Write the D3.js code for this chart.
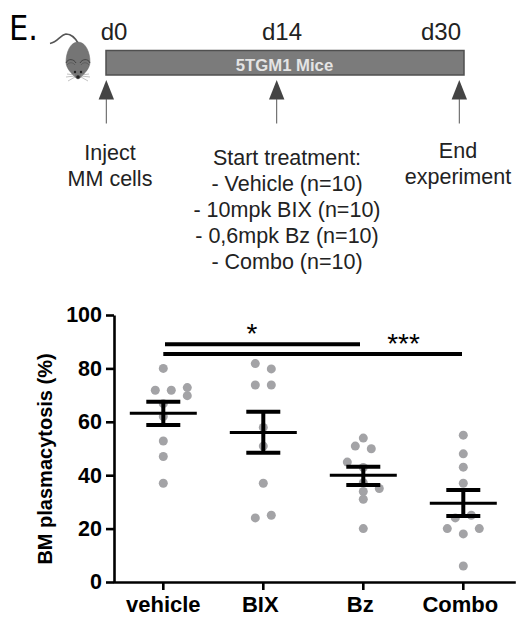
<!DOCTYPE html>
<html>
<head>
<meta charset="utf-8">
<script src="https://cdnjs.cloudflare.com/ajax/libs/d3/7.8.5/d3.min.js"></script>
<style>
  html, body { margin: 0; padding: 0; background: #fff; }
  svg { display: block; }
  text { font-family: "Liberation Sans", Arial, sans-serif; }
</style>
</head>
<body>
<div id="chart"></div>
<script>
var categories = ['vehicle', 'BIX', 'Bz', 'Combo'];
var yTicks = [0, 20, 40, 60, 80, 100];

// dot values, dodge = sideways slot of each dot in the swarm
var vehicleValues = [80, 71.8, 71.8, 72.8, 69.8, 66.8, 62, 52.8, 47, 37];
var vehicleDodge = [0, -1, 1, 3, 3, 0, 0, 0, 0, 0];
var bixValues = [81.8, 79.8, 73.8, 73.8, 57.9, 50.9, 37, 25, 24];
var bixDodge = [-1, 1, -1, 1, 0, 0, 0, 1, -1];
var bzValues = [53.9, 50.9, 49.9, 44.9, 42.9, 37.2, 35, 33.9, 31, 20];
var bzDodge = [0, -1, 1, -2, 0, 0, 2, 0, 0, 0];
var comboValues = [55, 48, 43, 37, 25, 24, 20, 20, 18, 6];
var comboDodge = [0, 0, 0, 0, 1, -1, -2, 2, 0, 0];

var means = [63.2, 56, 40, 29.5];
var errLow = [58.8, 48.4, 36.3, 24.7];
var errHigh = [67.5, 63.8, 43.2, 34.5];

var timelineDays = [0, 14, 30];
var timelineLabels = ['d0', 'd14', 'd30'];
var stepLabels = [
  ['Inject', 'MM cells'],
  ['Start treatment:', '- Vehicle (n=10)', '- 10mpk BIX (n=10)', '- 0,6mpk Bz (n=10)', '- Combo (n=10)'],
  ['End', 'experiment']
];

var seriesValues = [vehicleValues, bixValues, bzValues, comboValues];
var seriesDodge = [vehicleDodge, bixDodge, bzDodge, comboDodge];

var width = 519, height = 637;
var svg = d3.select('#chart').append('svg')
  .attr('width', width)
  .attr('height', height);

svg.append('text')
  .attr('x', 9).attr('y', 40)
  .attr('font-size', 34)
  .attr('fill', '#000')
  .style('font-family', '"DejaVu Sans", sans-serif')
  .attr('textLength', 29)
  .attr('lengthAdjust', 'spacingAndGlyphs')
  .text('E.');

/* ---- mouse ---- */
var mouse = svg.append('g').attr('transform', 'translate(78,62)');
mouse.append('path')
  .attr('d', 'M0,-19 C-3,-24 -6,-28 -12,-28 C-18,-27 -20,-20 -28,-18.5')
  .attr('fill', 'none').attr('stroke', '#555').attr('stroke-width', 1.6);
mouse.append('path')
  .attr('d', 'M0,-20 C8,-20 12,-9 12,0 C12,6 7,11 2,16 L0,17 L-2,16 C-7,11 -12,6 -12,0 C-12,-9 -8,-20 0,-20 Z')
  .attr('fill', '#757575').attr('stroke', '#666').attr('stroke-width', 0.5);
[-1, 1].forEach(function(side) {
  // ear arc
  mouse.append('path')
    .attr('d', 'M' + (side * 2) + ',1 C' + (side * 4) + ',-3 ' + (side * 10) + ',-4 ' + (side * 12) + ',1')
    .attr('fill', 'none').attr('stroke', '#3d3d3d').attr('stroke-width', 0.9);
  mouse.append('path')
    .attr('d', 'M' + (side * 3) + ',3 C' + (side * 5) + ',0 ' + (side * 9) + ',0 ' + (side * 11) + ',3')
    .attr('fill', 'none').attr('stroke', '#555').attr('stroke-width', 0.7);
  mouse.append('circle').attr('cx', side * 3).attr('cy', 10).attr('r', 1.2).attr('fill', '#222');
  // whiskers
  mouse.append('path')
    .attr('d', 'M' + (side * 3) + ',13 L' + (side * 11) + ',12 M' + (side * 3) + ',14 L' + (side * 12) + ',15 M' + (side * 3) + ',15 L' + (side * 10) + ',19')
    .attr('stroke', '#999').attr('stroke-width', 0.6);
});
mouse.append('circle').attr('cx', 0).attr('cy', 15).attr('r', 1.8).attr('fill', '#222');

/* ---- timeline ---- */
var arrowX = d3.scaleLinear().domain([0, 14, 30]).range([106.3, 276.7, 459.3]);
var dayLabelX = [114, 282, 441];
var stepX = [110, 287, 458];
var stepY = [160, 165, 158];

svg.append('rect')
  .attr('x', 106).attr('y', 50.5)
  .attr('width', 358).attr('height', 24.5)
  .attr('fill', '#7b7b7b').attr('stroke', '#4f4f4f').attr('stroke-width', 1.5);

svg.append('text')
  .attr('x', 284.5).attr('y', 70.5)
  .attr('text-anchor', 'middle')
  .attr('font-size', 16.7).attr('font-weight', 'bold')
  .attr('fill', '#e4e4e4')
  .text('5TGM1 Mice');

svg.selectAll('.day-label').data(timelineDays).enter().append('text')
  .attr('class', 'day-label')
  .attr('x', function(d, i) { return dayLabelX[i]; })
  .attr('y', 40)
  .attr('text-anchor', 'middle')
  .attr('font-size', 24)
  .attr('fill', '#222')
  .text(function(d, i) { return timelineLabels[i]; });

svg.selectAll('.arrow-head').data(timelineDays).enter().append('path')
  .attr('class', 'arrow-head')
  .attr('d', function(d) {
    var ax = arrowX(d);
    return 'M' + ax + ',80 L' + (ax + 7.7) + ',99.5 L' + (ax - 7.7) + ',99.5 Z';
  })
  .attr('fill', '#444');

svg.selectAll('.arrow-line').data(timelineDays).enter().append('line')
  .attr('class', 'arrow-line')
  .attr('x1', function(d) { return arrowX(d); })
  .attr('x2', function(d) { return arrowX(d); })
  .attr('y1', 99).attr('y2', 123.5)
  .attr('stroke', '#555').attr('stroke-width', 1);

stepLabels.forEach(function(lines, i) {
  svg.append('text')
    .attr('text-anchor', 'middle')
    .attr('font-size', 21.5)
    .attr('fill', '#222')
    .selectAll('tspan').data(lines).enter().append('tspan')
      .attr('x', stepX[i])
      .attr('y', function(d, j) { return stepY[i] + j * 26; })
      .text(function(d) { return d; });
});

/* ---- dot plot ---- */
// axis runs a bit past the last band, so the extra 2px goes on the right
var x = d3.scaleBand().domain(categories).range([113.3, 515.3]).paddingOuter(0.01).align(0);
var y = d3.scaleLinear().domain([0, 100]).range([582, 315]);
var dodgeStep = 8;

function cx(cat) { return x(cat) + x.bandwidth() / 2; }

var yAxis = d3.axisLeft(y).tickValues(yTicks).tickSize(8).tickSizeOuter(0).tickPadding(4);
var xAxis = d3.axisBottom(x).tickSize(8).tickSizeOuter(0).tickPadding(6);

var yG = svg.append('g').attr('transform', 'translate(114,0)').call(yAxis);
var xG = svg.append('g').attr('transform', 'translate(0,582)').call(xAxis);

[yG, xG].forEach(function(g) {
  g.selectAll('path, line').attr('stroke', '#000').attr('stroke-width', 2.6);
  g.selectAll('text')
    .attr('fill', '#000')
    .attr('font-weight', 'bold')
    .style('font-family', '"Liberation Sans", Arial, sans-serif');
});
// labels sit a little left of their ticks except the first
xG.selectAll('text').attr('font-size', 22)
  .attr('dx', function(d, i) { return i === 0 ? 0 : -3; });
yG.selectAll('text').attr('font-size', 21.5);

svg.append('text')
  .attr('transform', 'translate(52,459) rotate(-90)')
  .attr('text-anchor', 'middle')
  .attr('font-size', 20).attr('font-weight', 'bold')
  .attr('fill', '#000')
  .text('BM plasmacytosis (%)');

categories.forEach(function(cat, i) {
  svg.selectAll('.dot-' + i).data(seriesValues[i]).enter().append('circle')
    .attr('class', 'dot-' + i)
    .attr('cx', function(d, j) { return cx(cat) + seriesDodge[i][j] * dodgeStep; })
    .attr('cy', function(d) { return y(d); })
    .attr('r', 4.5)
    .attr('fill', '#a3a3a6');
});

var marks = svg.append('g').attr('stroke', '#000').attr('fill', 'none');
categories.forEach(function(cat, i) {
  var c = cx(cat);
  marks.append('line').attr('x1', c - 33.5).attr('x2', c + 33.5)
    .attr('y1', y(means[i])).attr('y2', y(means[i])).attr('stroke-width', 3);
  marks.append('line').attr('x1', c).attr('x2', c)
    .attr('y1', y(errLow[i])).attr('y2', y(errHigh[i])).attr('stroke-width', 4);
  [errLow[i], errHigh[i]].forEach(function(v) {
    marks.append('line').attr('x1', c - 17).attr('x2', c + 17)
      .attr('y1', y(v)).attr('y2', y(v)).attr('stroke-width', 4);
  });
});

// significance bars
marks.append('line').attr('x1', cx('vehicle') + 1.7).attr('x2', cx('Bz') - 3.3)
  .attr('y1', y(89)).attr('y2', y(89)).attr('stroke-width', 4);
marks.append('line').attr('x1', cx('vehicle')).attr('x2', cx('Combo') - 1.3)
  .attr('y1', y(85.4)).attr('y2', y(85.4)).attr('stroke-width', 4);

svg.append('text')
  .attr('x', 252).attr('y', 343)
  .attr('text-anchor', 'middle')
  .attr('font-size', 28)
  .attr('fill', '#000')
  .text('*');
svg.append('text')
  .attr('x', 403.5).attr('y', 353)
  .attr('text-anchor', 'middle')
  .attr('font-size', 28)
  .attr('fill', '#000')
  .text('***');
</script>
</body>
</html>
